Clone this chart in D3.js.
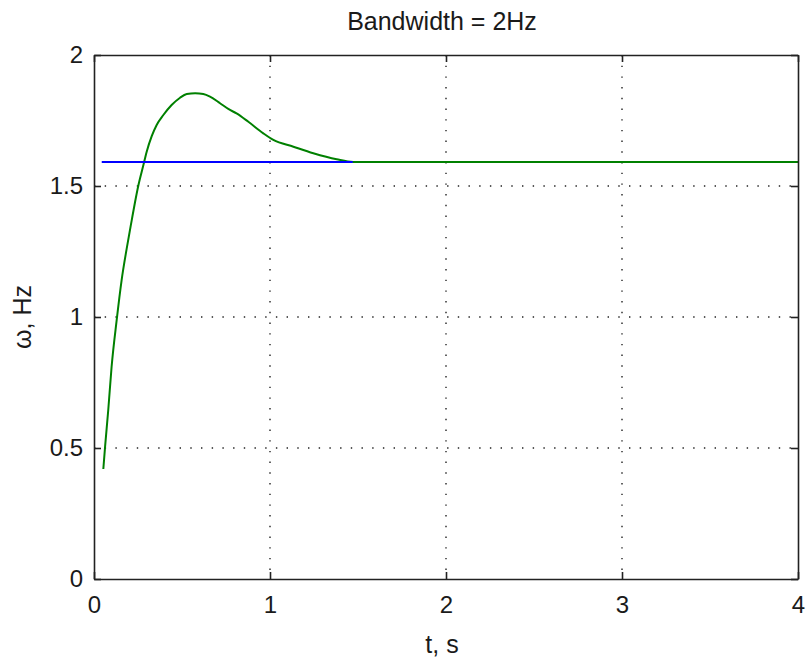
<!DOCTYPE html>
<html>
<head>
<meta charset="utf-8">
<script src="https://cdn.jsdelivr.net/npm/d3@7"></script>
<style>
  body { margin: 0; background: #fff; }
  text { font-family: "Liberation Sans", Arial, sans-serif; fill: #1a1a1a; }
</style>
</head>
<body>
<div id="chart"></div>
<script>
// data
var tResp = [0.053, 0.063, 0.081, 0.10, 0.129, 0.157, 0.186, 0.214, 0.233, 0.252, 0.280, 0.299,
             0.328, 0.356, 0.394, 0.441, 0.489, 0.527, 0.575, 0.621, 0.659, 0.716, 0.763, 0.81,
             0.877, 0.962, 1.019, 1.133, 1.246, 1.379, 1.473, 4.0];
var wResp = [0.42, 0.505, 0.645, 0.81, 0.989, 1.141, 1.262, 1.368, 1.438, 1.502, 1.578, 1.630,
             1.690, 1.733, 1.771, 1.809, 1.837, 1.851, 1.854, 1.851, 1.841, 1.816, 1.794, 1.777,
             1.745, 1.701, 1.676, 1.650, 1.625, 1.602, 1.592, 1.592];
var tRef = [0.044, 1.47];
var wRef = [1.592, 1.592];
var xTicks = [0, 1, 2, 3, 4];
var yTicks = [0, 0.5, 1, 1.5, 2];

var W = 807, H = 661;
var margin = { top: 55, right: 9, bottom: 82, left: 94 },
    width = W - margin.left - margin.right,
    height = H - margin.top - margin.bottom;

var svg = d3.select("#chart").append("svg")
    .attr("width", W)
    .attr("height", H);

var g = svg.append("g")
    .attr("transform", "translate(" + margin.left + "," + margin.top + ")");

var x = d3.scaleLinear().domain([0, 4]).range([0, width]);
var y = d3.scaleLinear().domain([0, 2]).range([height, 0]);

// dotted grid
g.selectAll(".gx").data(xTicks.slice(1, -1)).enter().append("line")
    .attr("x1", function(d) { return x(d); })
    .attr("x2", function(d) { return x(d); })
    .attr("y1", 0).attr("y2", height)
    .attr("stroke", "#222").attr("stroke-width", 1.4)
    .attr("stroke-dasharray", "1.4,9.3");
g.selectAll(".gy").data(yTicks.slice(1, -1)).enter().append("line")
    .attr("y1", function(d) { return y(d); })
    .attr("y2", function(d) { return y(d); })
    .attr("x1", 0).attr("x2", width)
    .attr("stroke", "#222").attr("stroke-width", 1.4)
    .attr("stroke-dasharray", "1.4,9.3");

// lines
var line = d3.line()
    .curve(d3.curveMonotoneX)
    .x(function(d) { return x(d[0]); })
    .y(function(d) { return y(d[1]); });

g.append("path")
    .datum(d3.zip(tResp, wResp))
    .attr("fill", "none")
    .attr("stroke", "#008000")
    .attr("stroke-width", 2)
    .attr("d", line);

g.append("path")
    .datum(d3.zip(tRef, wRef))
    .attr("fill", "none")
    .attr("stroke", "#0000ff")
    .attr("stroke-width", 2)
    .attr("d", line);

// axes with inside ticks, box on
var tickLen = 7;
var xb = g.append("g").attr("transform", "translate(0," + height + ")")
    .call(d3.axisBottom(x).tickValues(xTicks).tickSizeInner(-tickLen).tickSizeOuter(0).tickPadding(17)
          .tickFormat(d3.format("")));
var xt = g.append("g")
    .call(d3.axisTop(x).tickValues(xTicks).tickSizeInner(-tickLen).tickSizeOuter(0).tickFormat(""));
var yl = g.append("g")
    .call(d3.axisLeft(y).tickValues(yTicks).tickSizeInner(-tickLen).tickSizeOuter(0).tickPadding(11)
          .tickFormat(d3.format("")));
var yr = g.append("g").attr("transform", "translate(" + width + ",0)")
    .call(d3.axisRight(y).tickValues(yTicks).tickSizeInner(-tickLen).tickSizeOuter(0).tickFormat(""));

[xb, xt, yl, yr].forEach(function(a) {
  a.select(".domain").attr("stroke", "#222").attr("stroke-width", 1.6);
  a.selectAll(".tick line").attr("stroke", "#222").attr("stroke-width", 1.6);
  a.selectAll(".tick text").style("font-size", "24px").attr("fill", "#1a1a1a")
    .style("font-family", "'Liberation Sans', Arial, sans-serif");
});

// title and axis labels
svg.append("text")
    .attr("x", margin.left + width / 2 - 4)
    .attr("y", 30)
    .attr("text-anchor", "middle")
    .style("font-size", "25px")
    .text("Bandwidth = 2Hz");

svg.append("text")
    .attr("x", margin.left + width / 2 - 4)
    .attr("y", 653)
    .attr("text-anchor", "middle")
    .style("font-size", "25px")
    .text("t, s");

svg.append("text")
    .attr("transform", "translate(31," + (margin.top + height / 2) + ") rotate(-90)")
    .attr("text-anchor", "middle")
    .style("font-size", "25px")
    .text("ω, Hz");
</script>
</body>
</html>
